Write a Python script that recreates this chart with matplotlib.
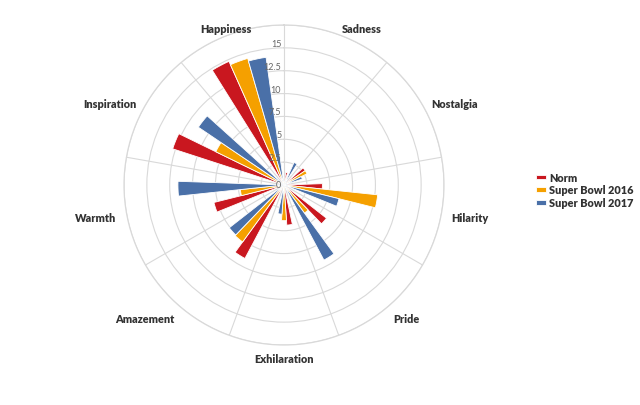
import numpy as np
import matplotlib
matplotlib.use("Agg")
import matplotlib.pyplot as plt

# data
categories = ["Happiness", "Sadness", "Nostalgia", "Hilarity", "Pride",
              "Exhilaration", "Amazement", "Warmth", "Inspiration"]
norm = [14.8, 1.4, 2.8, 4.2, 5.9, 4.4, 9.1, 7.9, 12.8]
sb2016 = [14.4, 0.8, 2.8, 10.3, 3.8, 3.9, 7.7, 4.8, 8.3]
sb2017 = [14.1, 2.7, 2.1, 6.2, 9.3, 3.2, 7.6, 11.6, 11.3]
series_names = ["Norm", "Super Bowl 2016", "Super Bowl 2017"]
r_ticks = [0, 2.5, 5, 7.5, 10, 12.5, 15]

colors = ["#C9171F", "#F5A000", "#4A70A8"]
grid_c = "#d9d9d9"
text_c = "#333333"
plt.rcParams['font.family'] = ['Lato', 'DejaVu Sans']

fig = plt.figure(figsize=(6.4, 4.06), dpi=100)
ax = fig.add_axes([124/640, 60/406, 320/640, 320/406], projection="polar")
ax.set_theta_zero_location("N")
ax.set_theta_direction(-1)

n = len(categories)
step = 360 / n
centers = np.radians(np.arange(n) * step - step / 2)  # first category left of top
w = np.radians(8)

for k, vals in enumerate([norm, sb2016, sb2017]):
    ax.bar(centers + (k - 1) * w, vals, width=w, color=colors[k],
           edgecolor="white", linewidth=0.6, label=series_names[k], zorder=3)

ax.set_ylim(0, 17.5)
ax.set_yticks(np.arange(2.5, 17.6, 2.5))
ax.set_yticklabels([])
ax.set_xticks(np.radians(np.arange(n) * step))
ax.set_xticklabels([])
ax.grid(True, color=grid_c, linewidth=0.8)
ax.spines["polar"].set_color(grid_c)
ax.spines["polar"].set_linewidth(0.9)

# radial labels along the top spoke
for v in r_ticks:
    lbl = ("%g" % v)
    ax.annotate(lbl, xy=(0, v), xytext=(-2, 0), textcoords="offset points",
                ha="right", va="bottom" if v > 0 else "center",
                fontsize=6.5, color="#666666", zorder=4)

# category labels
lab_r = 17.5 * 170 / 160
for ang, name in zip(centers, categories):
    s = np.sin(ang)
    if abs(np.degrees(ang) % 360 - 340) < 1:
        ha = "center"
    elif s > 0.1:
        ha = "left"
    elif s < -0.1:
        ha = "right"
    else:
        ha = "center"
    ax.annotate(name, xy=(ang, lab_r), xytext=(0, -2.2), textcoords="offset points",
                ha=ha, va="center", fontsize=7.8, fontweight="heavy",
                color=text_c, annotation_clip=False)

leg = fig.legend(loc="center left", bbox_to_anchor=(526/640, 1 - 191/406),
                 frameon=False, handlelength=0.9, handleheight=0.3,
                 handletextpad=0.35, labelspacing=0.15, fontsize=7.8)
for t in leg.get_texts():
    t.set_fontweight("heavy")
    t.set_color(text_c)

fig.savefig("out.png", dpi=100, facecolor="white")
